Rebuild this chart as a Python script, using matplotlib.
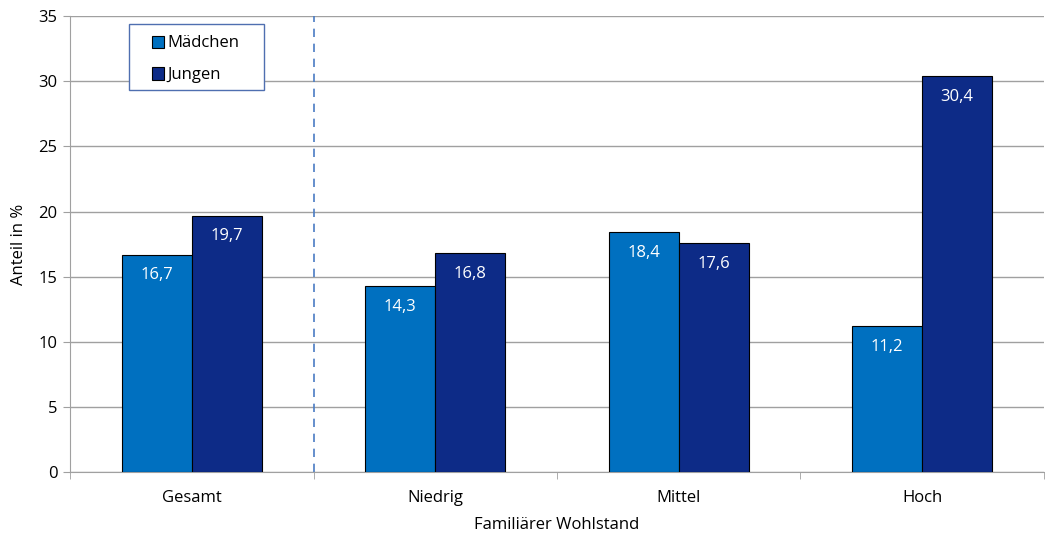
import numpy as np
import matplotlib.pyplot as plt
from matplotlib.patches import Rectangle

plt.rcParams['font.family'] = ['Open Sans', 'DejaVu Sans']

# --- data ---
categories = ["Gesamt", "Niedrig", "Mittel", "Hoch"]
maedchen = [16.7, 14.3, 18.4, 11.2]
jungen = [19.7, 16.8, 17.6, 30.4]
series_names = ["Mädchen", "Jungen"]

col_m = "#0070C0"
col_j = "#0D2B87"
fs = 12

fig = plt.figure(figsize=(10.45, 5.39), dpi=100)
ax = fig.add_axes([0.067, 0.124, 0.932, 0.846])

x = np.arange(len(categories))
w = 0.2875
bm = ax.bar(x - w / 2, maedchen, w, color=col_m, edgecolor="black", linewidth=0.8,
            label=series_names[0], zorder=3)
bj = ax.bar(x + w / 2, jungen, w, color=col_j, edgecolor="black", linewidth=0.8,
            label=series_names[1], zorder=3)

# value labels inside bars, near the top
for bars, vals in ((bm, maedchen), (bj, jungen)):
    for b, v in zip(bars, vals):
        ax.text(b.get_x() + b.get_width() / 2, v - 1.6, f"{v:.1f}".replace(".", ","),
                ha="center", va="center", color="white", fontsize=fs, zorder=4)

ax.set_xlim(-0.5, len(categories) - 0.5)
ax.set_ylim(0, 35)
ax.set_yticks(np.arange(0, 36, 5))
ax.yaxis.grid(True, color="#A0A0A0", linewidth=1)
ax.set_axisbelow(True)

# separator between total and groups
ax.axvline(0.5, color="#4A7CC4", linestyle=(0, (5, 4)), linewidth=1.2, zorder=2)

ax.set_xticks(x)
ax.set_xticklabels(categories, fontsize=fs)
ax.set_xticks(np.arange(-0.5, len(categories), 1), minor=True)
ax.tick_params(axis="x", which="major", length=0, pad=13)
ax.tick_params(axis="x", which="minor", length=5, color="#A0A0A0")
ax.tick_params(axis="y", length=5, color="#A0A0A0", labelsize=fs, pad=4)

for s in ("top", "right"):
    ax.spines[s].set_visible(False)
for s in ("left", "bottom"):
    ax.spines[s].set_color("#A0A0A0")

ax.set_ylabel("Anteil in %", fontsize=fs, labelpad=8)
ax.set_xlabel("Familiärer Wohlstand", fontsize=fs, labelpad=8)

# legend box drawn separately so padding can be matched
ax.add_patch(Rectangle((0.0606, 0.8377), 0.1386, 0.1447, transform=ax.transAxes,
                       facecolor="white", edgecolor="#4F6FB0", linewidth=1, zorder=5))
leg = ax.legend(loc="upper left", bbox_to_anchor=(0.0755, 0.976), fontsize=fs,
                frameon=False, borderpad=0, handlelength=0.75, handleheight=0.75,
                handletextpad=0.2, labelspacing=0.95)
leg.set_zorder(6)

fig.savefig("out.png", dpi=100)
